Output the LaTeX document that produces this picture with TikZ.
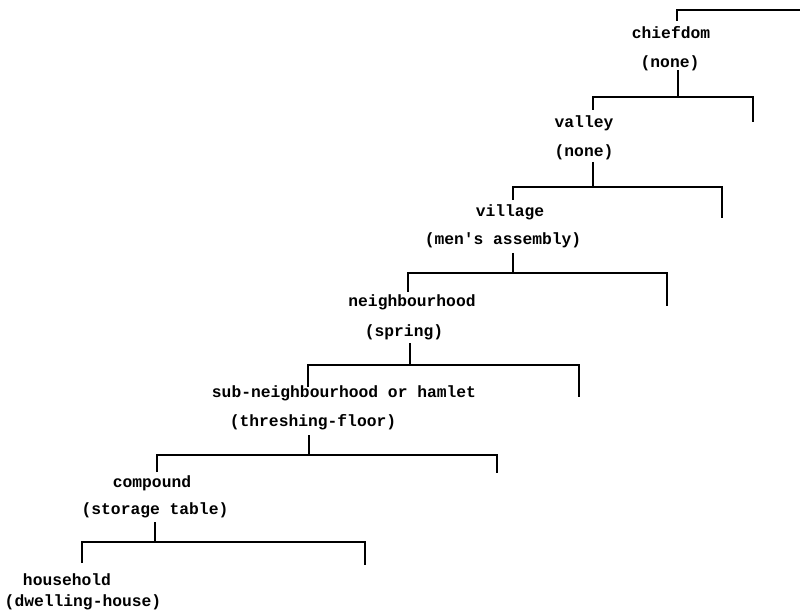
\documentclass[tikz,border=0pt]{standalone}
\usepackage{fontspec}
\setmonofont{Liberation Mono}
\begin{document}
\begin{tikzpicture}[x=1pt,y=-1pt,
  lbl/.style={font=\ttfamily\bfseries\fontsize{16.3}{18}\selectfont, inner sep=0pt, anchor=center},
  bar/.style={line width=2.5pt, line cap=butt, line join=miter}]
\useasboundingbox (0,0) rectangle (800,612);
% labels
\node[lbl] (n0) at (671,33) {chiefdom};
\node[lbl] (p0) at (670,63) {(none)};
\node[lbl] (n1) at (584,123) {valley};
\node[lbl] (p1) at (584,152) {(none)};
\node[lbl] (n2) at (510,212) {village};
\node[lbl] (p2) at (503,240) {(men's assembly)};
\node[lbl] (n3) at (412,302) {neighbourhood};
\node[lbl] (p3) at (404,332) {(spring)};
\node[lbl] (n4) at (344,393) {sub-neighbourhood or hamlet};
\node[lbl] (p4) at (313,422) {(threshing-floor)};
\node[lbl] (n5) at (152,483) {compound};
\node[lbl] (p5) at (155,510) {(storage table)};
\node[lbl] (n6) at (67,580) {household};
\node[lbl] (p6) at (83,602) {(dwelling-house)};
% top bracket
\coordinate (a0) at (677,10); \coordinate (d0) at (677,21); \coordinate (r0) at (800,10);
\draw[bar] (d0) -- (a0) -- (r0);
% brackets: stub top s, junction j, left end a, left drop dl, right end r, right drop dr
\foreach \k/\x/\ys/\yb/\xl/\yl/\xr/\yr in {
  1/678/70/97/593/110/753/122,
  2/593/162/187/513/200/722/218,
  3/513/253/273/408/292/667/306,
  4/410/343/365/308/387/579/397,
  5/309/435/455/157/472/497/473,
  6/155/522/542/82/563/365/565}{
  \coordinate (s\k) at (\x,\ys);
  \coordinate (j\k) at (\x,\yb);
  \coordinate (a\k) at (\xl,\yb);
  \coordinate (dl\k) at (\xl,\yl);
  \coordinate (r\k) at (\xr,\yb);
  \coordinate (dr\k) at (\xr,\yr);
  \draw[bar] (s\k) -- (j\k);
  \draw[bar] (dl\k) -- (a\k) -- (r\k) -- (dr\k);
}
\end{tikzpicture}
\end{document}
